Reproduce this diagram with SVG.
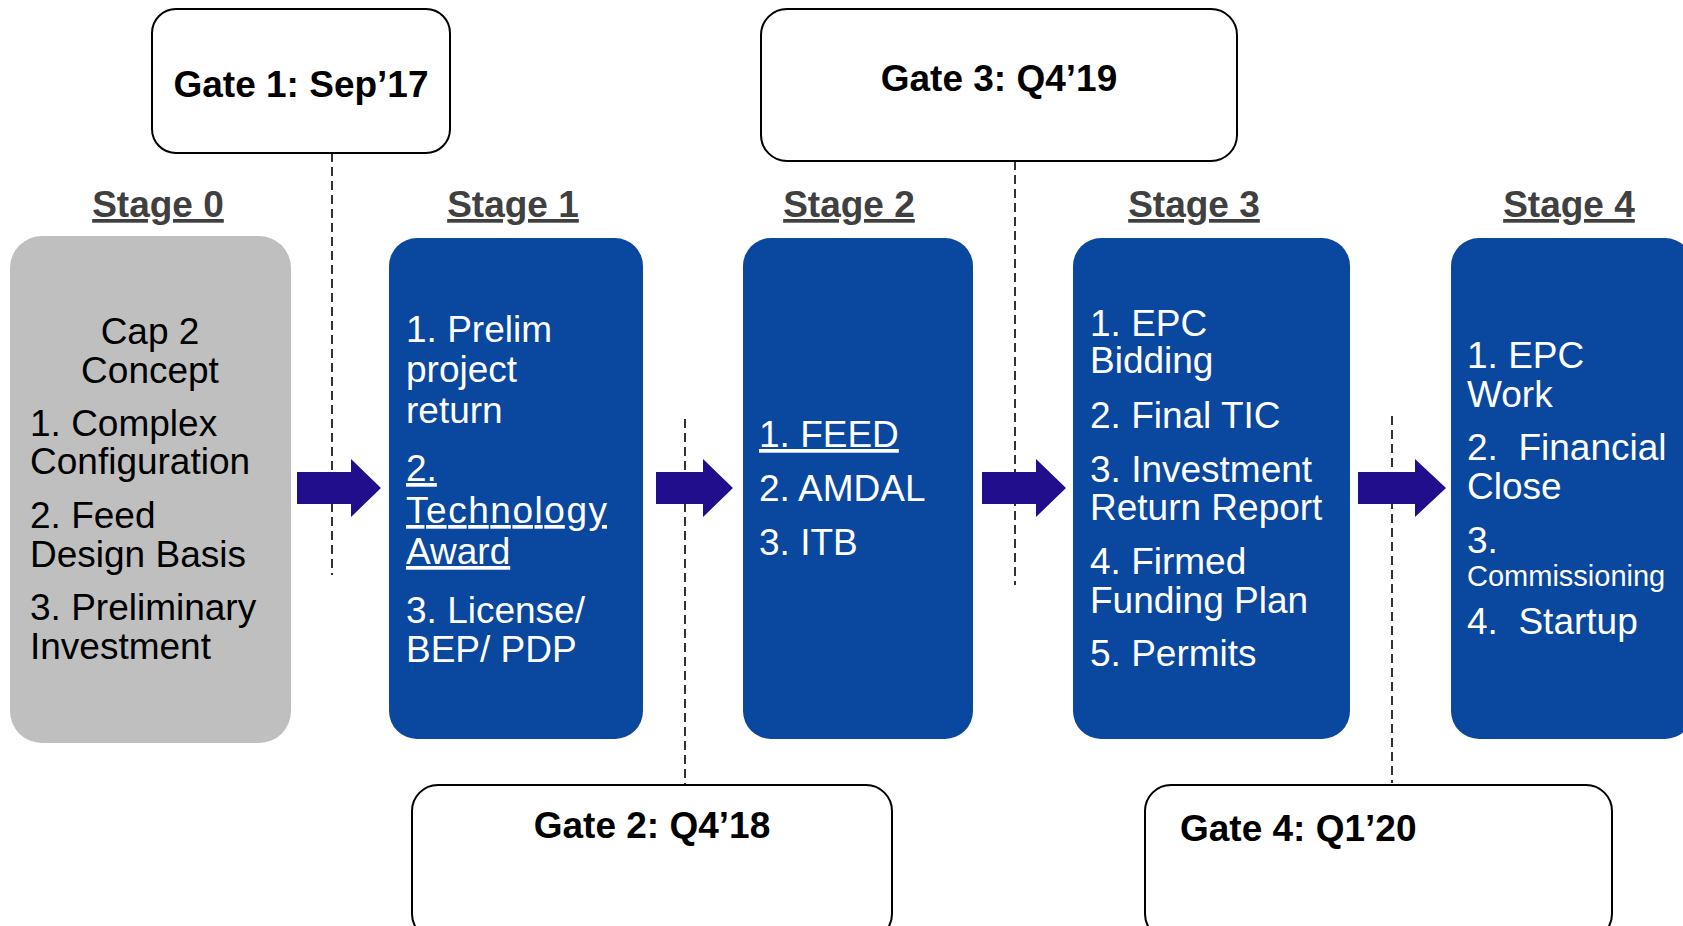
<svg xmlns="http://www.w3.org/2000/svg" width="1683" height="926" viewBox="0 0 1683 926">
<style>
.gate{fill:#fff;stroke:#000;stroke-width:2}
.gt{font-family:"Liberation Sans",Arial,sans-serif;font-weight:bold;font-size:37px;fill:#000}
.sh{font-family:"Liberation Sans",Arial,sans-serif;font-weight:bold;font-size:37px;fill:#404040;text-decoration:underline;text-anchor:middle}
.blue{fill:#0A479E}
.gray{fill:#BFBFBF}
.bt{font-family:"Liberation Sans",Arial,sans-serif;font-size:37px;fill:#fff;white-space:pre}
.kt{font-family:"Liberation Sans",Arial,sans-serif;font-size:37px;fill:#000}
.u{text-decoration:underline}
.dash{stroke:#000;stroke-width:1.6;stroke-dasharray:9 5;fill:none}
.arr{fill:#210E8C}
</style>
<g id="connectors">
<line class="dash" x1="332" y1="153" x2="332" y2="575"/>
<line class="dash" x1="1015" y1="161" x2="1015" y2="585"/>
<line class="dash" x1="685" y1="419" x2="685" y2="785"/>
<line class="dash" x1="1392" y1="416" x2="1392" y2="783"/>
<polygon class="arr" points="297,472 351,472 351,459 381,488 351,517 351,504 297,504"/>
<polygon class="arr" points="656,472 703,472 703,459 733,488 703,517 703,504 656,504"/>
<polygon class="arr" points="982,472 1036,472 1036,459 1066,488 1036,517 1036,504 982,504"/>
<polygon class="arr" points="1358,472 1415,472 1415,459 1446,488 1415,517 1415,504 1358,504"/>
</g>
<g id="gate1">
<rect class="gate" x="152" y="9" width="298" height="144" rx="24"/>
<text class="gt" x="301" y="97" text-anchor="middle">Gate 1: Sep’17</text>
</g>
<g id="gate3">
<rect class="gate" x="761" y="9" width="476" height="152" rx="26"/>
<text class="gt" x="999" y="91" text-anchor="middle">Gate 3: Q4’19</text>
</g>
<g id="gate2">
<rect class="gate" x="412" y="785" width="480" height="155" rx="26"/>
<text class="gt" x="652" y="838" text-anchor="middle">Gate 2: Q4’18</text>
</g>
<g id="gate4">
<rect class="gate" x="1145" y="785" width="467" height="155" rx="26"/>
<text class="gt" x="1180" y="841">Gate 4: Q1’20</text>
</g>
<g id="stage0">
<text class="sh" x="158" y="217">Stage 0</text>
<rect class="gray" x="10" y="236" width="281" height="507" rx="32"/>
<text class="kt" x="150" y="344" text-anchor="middle">Cap 2</text>
<text class="kt" x="150" y="383" text-anchor="middle">Concept</text>
<text class="kt" x="30" y="436">1. Complex</text>
<text class="kt" x="30" y="474">Configuration</text>
<text class="kt" x="30" y="528">2. Feed</text>
<text class="kt" x="30" y="567">Design Basis</text>
<text class="kt" x="30" y="620">3. Preliminary</text>
<text class="kt" x="30" y="659">Investment</text>
</g>
<g id="stage1">
<text class="sh" x="513" y="217">Stage 1</text>
<rect class="blue" x="389" y="238" width="254" height="501" rx="28"/>
<text class="bt" x="406" y="342">1. Prelim</text>
<text class="bt" x="406" y="382">project</text>
<text class="bt" x="406" y="423">return</text>
<text class="bt u" x="406" y="481">2.</text>
<text class="bt u" x="406" y="523" textLength="201">Technology</text>
<text class="bt u" x="406" y="564">Award</text>
<text class="bt" x="406" y="623">3. License/</text>
<text class="bt" x="406" y="662">BEP/ PDP</text>
</g>
<g id="stage2">
<text class="sh" x="849" y="217">Stage 2</text>
<rect class="blue" x="743" y="238" width="230" height="501" rx="28"/>
<text class="bt u" x="759" y="447">1. FEED</text>
<text class="bt" x="759" y="501">2. AMDAL</text>
<text class="bt" x="759" y="555">3. ITB</text>
</g>
<g id="stage3">
<text class="sh" x="1194" y="217">Stage 3</text>
<rect class="blue" x="1073" y="238" width="277" height="501" rx="28"/>
<text class="bt" x="1090" y="336">1. EPC</text>
<text class="bt" x="1090" y="373">Bidding</text>
<text class="bt" x="1090" y="428">2. Final TIC</text>
<text class="bt" x="1090" y="482">3. Investment</text>
<text class="bt" x="1090" y="520">Return Report</text>
<text class="bt" x="1090" y="574">4. Firmed</text>
<text class="bt" x="1090" y="613">Funding Plan</text>
<text class="bt" x="1090" y="666">5. Permits</text>
</g>
<g id="stage4">
<text class="sh" x="1569" y="217">Stage 4</text>
<rect class="blue" x="1451" y="238" width="242" height="501" rx="28"/>
<text class="bt" x="1467" y="368">1. EPC</text>
<text class="bt" x="1467" y="407">Work</text>
<text class="bt" x="1467" y="460">2.  Financial</text>
<text class="bt" x="1467" y="499">Close</text>
<text class="bt" x="1467" y="553">3.</text>
<text class="bt" x="1467" y="586" style="font-size:29px">Commissioning</text>
<text class="bt" x="1467" y="634">4.  Startup</text>
</g>
</svg>
